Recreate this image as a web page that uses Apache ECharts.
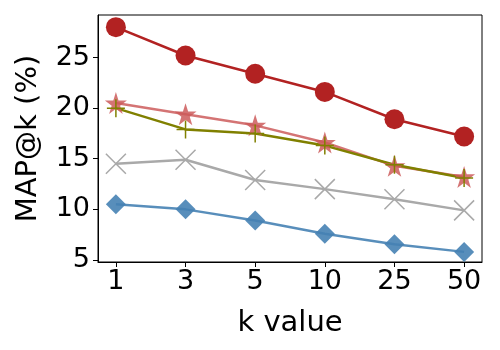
<!DOCTYPE html>
<html lang="en">
  <head>
    <meta charset="UTF-8" />
    <title>MAP@k</title>
    <script src="https://cdn.jsdelivr.net/npm/echarts@6/dist/echarts.min.js"></script>
  </head>
  <body style="margin: 0">
    <div id="main" style="width: 500px; height: 350px"></div>
    <script>
      var kLabels = ["1", "3", "5", "10", "25", "50"];
      var yTicks = [5, 10, 15, 20, 25];

      var redCircle = [28.0, 25.2, 23.4, 21.6, 18.9, 17.2];
      var pinkStar = [20.5, 19.4, 18.3, 16.6, 14.3, 13.2];
      var olivePlus = [20.0, 17.9, 17.5, 16.3, 14.4, 13.1];
      var grayX = [14.5, 14.9, 12.9, 12.0, 11.0, 9.9];
      var blueDiamond = [10.5, 10.0, 8.9, 7.6, 6.55, 5.8];

      var font = "DejaVu Sans";
      var xIdx = kLabels.map(function (l, i) {
        return i;
      });

      function pts(vals) {
        return vals.map(function (v, i) {
          return [i, v];
        });
      }

      function line(vals, color, symbol, size, extra) {
        var s = {
          type: "line",
          data: pts(vals),
          symbol: symbol,
          symbolSize: size,
          lineStyle: { color: color, width: 2.5 },
          itemStyle: { color: color },
        };
        for (var key in extra) s[key] = extra[key];
        return s;
      }

      var chart = echarts.init(document.getElementById("main"));
      chart.setOption({
        animation: false,
        grid: {
          left: 98,
          right: 18,
          top: 15,
          bottom: 88,
          show: true,
          borderColor: "#000",
          borderWidth: 1,
        },
        xAxis: {
          type: "value",
          min: -0.257,
          max: 5.257,
          name: "k value",
          nameLocation: "middle",
          nameGap: 47,
          nameTextStyle: { fontFamily: font, fontSize: 29, color: "#000" },
          axisLine: { onZero: false, lineStyle: { color: "#000" } },
          axisTick: {
            show: true,
            length: 5,
            customValues: xIdx,
            lineStyle: { color: "#000" },
          },
          axisLabel: {
            customValues: xIdx,
            fontFamily: font,
            fontSize: 27,
            color: "#000",
            margin: 6,
            formatter: function (v) {
              return kLabels[Math.round(v)];
            },
          },
          splitLine: { show: false },
        },
        yAxis: {
          type: "value",
          min: 4.8,
          max: 29.2,
          name: "MAP@k (%)",
          nameLocation: "middle",
          nameGap: 55,
          nameTextStyle: { fontFamily: font, fontSize: 29, color: "#000" },
          axisLine: { show: true, onZero: false, lineStyle: { color: "#000" } },
          axisTick: {
            show: true,
            length: 5,
            customValues: yTicks,
            lineStyle: { color: "#000" },
          },
          axisLabel: {
            customValues: yTicks,
            fontFamily: font,
            fontSize: 27,
            color: "#000",
            margin: 8,
          },
          splitLine: { show: false },
        },
        series: [
          line(blueDiamond, "rgba(70,130,180,0.9)", "diamond", 20),
          line(grayX, "#a9a9a9", "path://M0,0L10,10M10,0L0,10", 20, {
            itemStyle: {
              color: "none",
              borderColor: "#a9a9a9",
              borderWidth: 1.5,
            },
          }),
          line(pinkStar, "rgba(205,92,92,0.85)", "path://M50,0L61.8,36.2L100,36.2L69.1,58.6L80.9,95.1L50,72.6L19.1,95.1L30.9,58.6L0,36.2L38.2,36.2Z", 22),
          line(olivePlus, "#808000", "path://M5,0L5,10M0,5L10,5", 18, {
            itemStyle: {
              color: "none",
              borderColor: "#808000",
              borderWidth: 1.5,
            },
          }),
          line(redCircle, "#b22222", "circle", 20),
        ],
      });
    </script>
  </body>
</html>
